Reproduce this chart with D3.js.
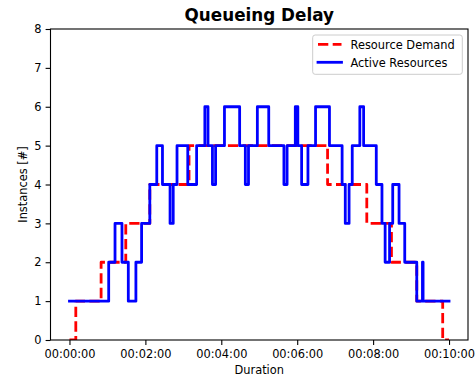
<!DOCTYPE html>
<html>
<head>
<meta charset="utf-8">
<script src="https://cdn.jsdelivr.net/npm/d3@7"></script>
<style>
  html, body { margin: 0; padding: 0; background: #fff; }
  svg { display: block; font-family: "DejaVu Sans", sans-serif; }
</style>
</head>
<body>
<svg id="chart" width="476" height="377"></svg>
<script>
// Step series: time in seconds, instance count from that moment on
const demandTimes  = [0, 10, 50, 89, 127, 189, 408, 470, 509, 549, 590, 600];
const demandLevels = [0, 1, 2, 3, 4, 5, 4, 3, 2, 1, 0, 0];

const activeTimes  = [0, 62, 72, 83, 93, 105, 114, 127, 138, 147, 159, 164, 170, 187, 201, 214, 219, 226, 231, 245,
                      269, 278, 283, 297, 315, 339, 344, 357, 361, 367, 377, 389, 411, 431, 436, 442, 447, 459, 465,
                      485, 494, 499, 506, 511, 521, 530, 549, 558, 559, 600];
const activeLevels = [1, 2, 3, 2, 1, 2, 3, 4, 5, 4, 3, 4, 5, 4, 5, 6, 5, 4, 5, 6,
                      5, 4, 5, 6, 5, 4, 5, 6, 5, 4, 5, 6, 5, 4, 3, 4, 5, 6, 5,
                      4, 3, 2, 3, 4, 3, 2, 1, 2, 1, 1];

const xTickSeconds = [0, 120, 240, 360, 480, 600];
const yTickValues  = [0, 1, 2, 3, 4, 5, 6, 7, 8];

const seriesNames = ["Resource Demand", "Active Resources"];
const seriesColors = ["#ff0000", "#0000ff"];

const svg = d3.select("#chart");
const plotLeft = 50.5, plotRight = 468, plotTop = 29, plotBottom = 340;
const fs = 11.4;

const x = d3.scaleLinear().domain([-30, 630]).range([plotLeft, plotRight]);
const y = d3.scaleLinear().domain([0, 8]).range([plotBottom, plotTop]);

const fmt = s => {
  const h = Math.floor(s / 3600), m = Math.floor((s % 3600) / 60), sec = s % 60;
  const p = v => String(v).padStart(2, "0");
  return `${p(h)}:${p(m)}:${p(sec)}`;
};

// Clip lines to the axes area
svg.append("defs").append("clipPath").attr("id", "plotClip")
  .append("rect").attr("x", plotLeft).attr("y", plotTop)
  .attr("width", plotRight - plotLeft).attr("height", plotBottom - plotTop);

const line = d3.line()
  .x(d => x(d[0]))
  .y(d => y(d[1]))
  .curve(d3.curveStepAfter);

const demand = demandTimes.map((t, i) => [t, demandLevels[i]]);
const active = activeTimes.map((t, i) => [t, activeLevels[i]]);

const plot = svg.append("g").attr("clip-path", "url(#plotClip)");

plot.append("path")
  .datum(demand)
  .attr("d", line)
  .attr("fill", "none")
  .attr("stroke", seriesColors[0])
  .attr("stroke-width", 2.8)
  .attr("stroke-dasharray", "10.3,4.4")
  .attr("stroke-linejoin", "round")
  .attr("stroke-linecap", "butt");

plot.append("path")
  .datum(active)
  .attr("d", line)
  .attr("fill", "none")
  .attr("stroke", seriesColors[1])
  .attr("stroke-width", 2.8)
  .attr("stroke-linejoin", "round")
  .attr("stroke-linecap", "square");

// Axes
const xAxis = d3.axisBottom(x).tickValues(xTickSeconds).tickFormat(fmt).tickSize(4.9).tickPadding(4.2);
const yAxis = d3.axisLeft(y).tickValues(yTickValues).tickFormat(d3.format("d")).tickSize(4.9).tickPadding(4.2);

const gx = svg.append("g").attr("transform", `translate(0,${plotBottom})`).call(xAxis);
const gy = svg.append("g").attr("transform", `translate(${plotLeft},0)`).call(yAxis);

[gx, gy].forEach(g => {
  g.select(".domain").remove();
  g.selectAll(".tick line").attr("stroke", "#000").attr("stroke-width", 1.1);
  g.selectAll(".tick text").attr("fill", "#000").style("font-size", fs + "px")
    .style("font-family", "DejaVu Sans, sans-serif");
});
gx.selectAll(".tick text").attr("dy", "0.78em");

// Frame
svg.append("rect")
  .attr("x", plotLeft).attr("y", plotTop)
  .attr("width", plotRight - plotLeft).attr("height", plotBottom - plotTop)
  .attr("fill", "none").attr("stroke", "#000").attr("stroke-width", 1.1);

// Labels
svg.append("text")
  .attr("x", (plotLeft + plotRight) / 2).attr("y", 21)
  .attr("text-anchor", "middle")
  .style("font-size", "16.8px").style("font-weight", "bold")
  .text("Queueing Delay");

svg.append("text")
  .attr("x", (plotLeft + plotRight) / 2).attr("y", 374)
  .attr("text-anchor", "middle")
  .style("font-size", fs + "px")
  .text("Duration");

svg.append("text")
  .attr("transform", `translate(27,${(plotTop + plotBottom) / 2}) rotate(-90)`)
  .attr("text-anchor", "middle")
  .style("font-size", fs + "px")
  .text("Instances [#]");

// Legend
const lg = svg.append("g");
lg.append("rect")
  .attr("x", 312.7).attr("y", 35)
  .attr("width", 149.6).attr("height", 39.3)
  .attr("rx", 2.5).attr("ry", 2.5)
  .attr("fill", "#fff").attr("fill-opacity", 0.8)
  .attr("stroke", "#cccccc").attr("stroke-width", 1);

const rowsY = [44.3, 62.3];
seriesNames.forEach((name, i) => {
  const ly = rowsY[i];
  lg.append("line")
    .attr("x1", 318).attr("x2", 341.5)
    .attr("y1", ly).attr("y2", ly)
    .attr("stroke", seriesColors[i])
    .attr("stroke-width", 2.8)
    .attr("stroke-dasharray", i === 0 ? "10.3,4.4" : null)
    .attr("stroke-linecap", i === 0 ? "butt" : "square");
  lg.append("text")
    .attr("x", 350.5).attr("y", ly + 4.2)
    .style("font-size", fs + "px")
    .text(name);
});
</script>
</body>
</html>
